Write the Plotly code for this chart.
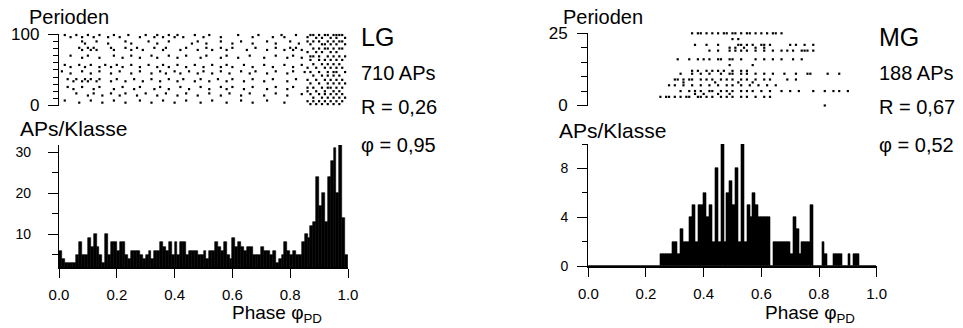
import plotly.graph_objects as go

# ---------------- data ----------------
PHASE_TICKS = [0.0, 0.2, 0.4, 0.6, 0.8, 1.0]
PHASE_LABELS = ["0.0", "0.2", "0.4", "0.6", "0.8", "1.0"]
N_BINS = 100

# APs per class (100 classes over phase 0..1)
LG_COUNTS = [6, 4, 3, 3, 3, 3, 5, 8, 5, 5,
             9, 7, 10, 7, 5, 3, 10, 5, 8, 8,
             6, 8, 8, 5, 4, 6, 6, 6, 5, 4,
             5, 6, 4, 6, 6, 8, 7, 6, 8, 5,
             8, 5, 8, 8, 5, 6, 6, 6, 5, 5,
             6, 4, 6, 6, 8, 7, 6, 8, 5, 4,
             9, 7, 8, 7, 6, 7, 7, 5, 5, 5,
             7, 6, 6, 5, 6, 3, 4, 5, 8, 6,
             5, 6, 5, 5, 8, 10, 9, 12, 13, 24,
             17, 20, 13, 24, 28, 31, 20, 32, 14, 5]

MG_COUNTS = [0] * 25 + [1, 1, 1, 1, 2,
                        2, 1, 3, 2, 2, 4, 5, 2, 5, 5,
                        6, 4, 5, 2, 8, 2, 10, 2, 6, 7,
                        5, 8, 2, 10, 2, 5, 4, 6, 5, 4,
                        4, 4, 4, 0, 2, 2, 2, 2, 2, 2,
                        1, 4, 3, 1, 2, 2, 2, 5, 0, 0,
                        0, 2, 1, 0, 0, 1, 1, 1, 0, 0,
                        1, 0, 1, 1, 0, 0, 0, 0, 0, 0]

# Raster (LG): period of each row and the phases of its APs
LG_ROW_PERIODS = [99, 96, 90, 87, 81, 78, 70, 67, 57, 54, 48, 45, 37, 34, 26, 23, 17, 14, 7, 4]
LG_ROW_PHASES = [
    [0.02, 0.06, 0.10, 0.14, 0.19, 0.24, 0.30, 0.34, 0.38, 0.41, 0.47, 0.52, 0.62, 0.69, 0.77, 0.82, 0.87],
    [0.04, 0.08, 0.12, 0.17, 0.21, 0.28, 0.33, 0.36, 0.40, 0.43, 0.50, 0.56, 0.67, 0.74, 0.78, 0.86],
    [0.08, 0.13, 0.23, 0.31, 0.38, 0.48, 0.56, 0.63, 0.72, 0.80],
    [0.09, 0.17, 0.25, 0.34, 0.46, 0.51, 0.60, 0.67, 0.75, 0.83],
    [0.07, 0.10, 0.12, 0.18, 0.23, 0.27, 0.33, 0.37, 0.44, 0.51, 0.56, 0.60, 0.68, 0.75, 0.80, 0.82],
    [0.08, 0.11, 0.13, 0.19, 0.25, 0.29, 0.36, 0.42, 0.48, 0.53, 0.58, 0.65, 0.72, 0.78, 0.81, 0.84],
    [0.04, 0.10, 0.19, 0.25, 0.32, 0.38, 0.44, 0.51, 0.58, 0.66, 0.75, 0.81],
    [0.08, 0.14, 0.22, 0.28, 0.34, 0.41, 0.49, 0.56, 0.62, 0.71, 0.79, 0.84],
    [0.02, 0.07, 0.11, 0.16, 0.20, 0.25, 0.31, 0.36, 0.41, 0.47, 0.53, 0.58, 0.64, 0.71, 0.78, 0.84],
    [0.04, 0.09, 0.14, 0.18, 0.22, 0.28, 0.34, 0.38, 0.44, 0.50, 0.56, 0.60, 0.67, 0.74, 0.81],
    [0.01, 0.08, 0.14, 0.21, 0.28, 0.35, 0.40, 0.45, 0.50, 0.56, 0.63, 0.68, 0.75, 0.81],
    [0.04, 0.11, 0.18, 0.25, 0.32, 0.37, 0.42, 0.48, 0.53, 0.59, 0.66, 0.72, 0.79],
    [0.03, 0.06, 0.09, 0.11, 0.14, 0.20, 0.26, 0.32, 0.38, 0.43, 0.49, 0.55, 0.60, 0.67, 0.74, 0.82],
    [0.05, 0.08, 0.10, 0.13, 0.18, 0.23, 0.29, 0.35, 0.41, 0.47, 0.52, 0.58, 0.64, 0.71, 0.79],
    [0.03, 0.08, 0.14, 0.22, 0.28, 0.35, 0.42, 0.49, 0.56, 0.60, 0.67, 0.75, 0.81],
    [0.05, 0.12, 0.19, 0.26, 0.33, 0.38, 0.45, 0.52, 0.58, 0.64, 0.72, 0.79],
    [0.06, 0.12, 0.18, 0.23, 0.30, 0.37, 0.44, 0.52, 0.59, 0.66, 0.75],
    [0.10, 0.15, 0.21, 0.27, 0.34, 0.41, 0.48, 0.56, 0.63, 0.71, 0.79],
    [0.02, 0.11, 0.19, 0.28, 0.36, 0.44, 0.53, 0.63, 0.72],
    [0.07, 0.15, 0.23, 0.32, 0.40, 0.49, 0.58, 0.67, 0.78],
]
# Raster (LG): dense cluster near phase 0.85..1.0
LG_DENSE_PERIODS = [99, 95, 90, 86, 80, 75, 69, 64, 58, 53, 47, 42, 36, 31, 25, 20, 16, 11, 6, 2]
LG_DENSE_PHASES = [
    [0.88, 0.90, 0.92, 0.93, 0.95, 0.96, 0.97, 0.98],
    [0.89, 0.91, 0.94, 0.96, 0.99],
    [0.86, 0.88, 0.90, 0.93, 0.95, 0.97, 0.98],
    [0.87, 0.91, 0.92, 0.94, 0.96, 0.99],
    [0.88, 0.90, 0.92, 0.93, 0.95, 0.97, 0.98],
    [0.86, 0.89, 0.91, 0.94, 0.96],
    [0.87, 0.88, 0.90, 0.93, 0.95, 0.97, 0.99],
    [0.87, 0.90, 0.92, 0.94, 0.96, 0.98],
    [0.88, 0.91, 0.93, 0.95, 0.97],
    [0.86, 0.89, 0.92, 0.94, 0.96, 0.98],
    [0.85, 0.87, 0.90, 0.93, 0.95, 0.96, 0.99],
    [0.88, 0.91, 0.93, 0.95, 0.97],
    [0.86, 0.89, 0.92, 0.94, 0.96, 0.98],
    [0.87, 0.90, 0.93, 0.95, 0.97, 0.99],
    [0.86, 0.88, 0.91, 0.93, 0.94, 0.96, 0.98],
    [0.86, 0.89, 0.92, 0.95, 0.97],
    [0.84, 0.87, 0.90, 0.92, 0.94, 0.96, 0.98],
    [0.88, 0.91, 0.93, 0.95, 0.97, 0.99],
    [0.86, 0.88, 0.90, 0.92, 0.94, 0.96, 0.98],
    [0.87, 0.89, 0.91, 0.93, 0.95, 0.97],
]

# Raster (MG)
MG_ROW_PERIODS = [25, 23, 21, 20, 19, 16, 14, 12, 11, 9, 8, 7, 5, 4, 3, 0]
MG_ROW_PHASES = [
    [0.36, 0.38, 0.39, 0.41, 0.43, 0.45, 0.47, 0.48, 0.50, 0.51, 0.53, 0.55, 0.56, 0.58, 0.60, 0.62, 0.64, 0.65, 0.67],
    [0.50, 0.52],
    [0.37, 0.41, 0.45, 0.52, 0.53, 0.55, 0.57, 0.60, 0.61, 0.63, 0.70, 0.72, 0.75, 0.78],
    [0.49, 0.51, 0.54, 0.58, 0.61],
    [0.42, 0.45, 0.49, 0.51, 0.53, 0.55, 0.58, 0.61, 0.64, 0.67, 0.69, 0.71, 0.74, 0.75, 0.76, 0.78],
    [0.31, 0.35, 0.38, 0.40, 0.42, 0.45, 0.46, 0.49, 0.50, 0.53, 0.58, 0.61, 0.64, 0.67, 0.71, 0.74],
    [0.49, 0.57],
    [0.36, 0.38, 0.41, 0.43, 0.45, 0.47, 0.50, 0.53, 0.55],
    [0.32, 0.36, 0.39, 0.42, 0.46, 0.49, 0.50, 0.53, 0.55, 0.58, 0.61, 0.64, 0.68, 0.72, 0.76, 0.77, 0.83, 0.87],
    [0.30, 0.31, 0.33, 0.35, 0.36, 0.39, 0.41, 0.43, 0.46, 0.48, 0.50, 0.53, 0.55, 0.58, 0.61, 0.63, 0.69, 0.72],
    [0.33, 0.44, 0.52, 0.57],
    [0.28, 0.30, 0.33, 0.36, 0.39, 0.42, 0.45, 0.48, 0.50, 0.53, 0.56, 0.59, 0.62, 0.65],
    [0.32, 0.35, 0.37, 0.39, 0.42, 0.43, 0.46, 0.48, 0.50, 0.53, 0.55, 0.57, 0.60, 0.63, 0.67, 0.70, 0.73,
     0.78, 0.82, 0.85, 0.87, 0.90],
    [0.37, 0.40, 0.45, 0.49],
    [0.25, 0.27, 0.28, 0.30, 0.32, 0.34, 0.35, 0.38, 0.39, 0.41, 0.43, 0.46, 0.48, 0.50, 0.53, 0.55, 0.58,
     0.61, 0.63],
    [0.82],
]

LG_STATS = ["LG", "710 APs", "R = 0,26", "φ = 0,95"]
MG_STATS = ["MG", "188 APs", "R = 0,67", "φ = 0,52"]

# ---------------- figure ----------------
W, H = 963, 328
FONT = "Liberation Sans, Arial, sans-serif"


def px(x):
    return x / W


def py(y):
    return 1 - y / H


def flatten(periods, phases):
    xs, ys = [], []
    for p, row in zip(periods, phases):
        for ph in row:
            xs.append(ph)
            ys.append(p)
    return xs, ys


centers = [(i + 0.5) / N_BINS for i in range(N_BINS)]

fig = go.Figure()

lx1, ly1 = flatten(LG_ROW_PERIODS, LG_ROW_PHASES)
lx2, ly2 = flatten(LG_DENSE_PERIODS, LG_DENSE_PHASES)
mx, my = flatten(MG_ROW_PERIODS, MG_ROW_PHASES)

dot = dict(color="black", size=2.2, symbol="square", line=dict(width=0))
barstyle = dict(color="black", line=dict(width=0.6, color="black"))
fig.add_trace(go.Scatter(x=lx1 + lx2, y=ly1 + ly2, mode="markers", marker=dot,
                         xaxis="x", yaxis="y", cliponaxis=False, showlegend=False))
fig.add_trace(go.Bar(x=centers, y=LG_COUNTS, width=1 / N_BINS, marker=barstyle,
                     xaxis="x2", yaxis="y2", showlegend=False))
fig.add_trace(go.Scatter(x=mx, y=my, mode="markers", marker=dot,
                         xaxis="x3", yaxis="y3", cliponaxis=False, showlegend=False))
fig.add_trace(go.Bar(x=centers, y=MG_COUNTS, width=1 / N_BINS, marker=barstyle,
                     xaxis="x4", yaxis="y4", showlegend=False))

LDOM = [px(59), px(348)]
RDOM = [px(588.3), px(876.7)]

tickfont_raster = dict(family=FONT, size=17, color="black")
tickfont_hist = dict(family=FONT, size=14, color="black")
tickfont_x = dict(family=FONT, size=15, color="black")

common_y = dict(showline=True, linecolor="black", linewidth=1.3, ticks="outside", tickcolor="black",
                tickwidth=1.3, ticklen=10, showgrid=False, zeroline=False, fixedrange=True,
                automargin=False)
common_xh = dict(showline=True, linecolor="black", linewidth=1.5, ticks="outside", tickcolor="black",
                 tickwidth=1.3, ticklen=9, showgrid=False, zeroline=False, range=[0, 1],
                 tickvals=PHASE_TICKS, ticktext=PHASE_LABELS, tickfont=tickfont_x, ticklabelstandoff=4,
                 automargin=False)

fig.update_layout(
    width=W, height=H, margin=dict(l=0, r=0, t=0, b=0), autosize=False,
    paper_bgcolor="white", plot_bgcolor="white", bargap=0,
    font=dict(family=FONT, color="black"),
    xaxis=dict(domain=LDOM, range=[0, 1], visible=False, anchor="y", automargin=False),
    yaxis=dict(domain=[py(105.5), py(34.3)], range=[0, 100], dtick=100, anchor="x",
               tickfont=tickfont_raster, ticklabelstandoff=5,
               minor=dict(dtick=10, ticks="outside", ticklen=5, tickcolor="black", tickwidth=1.2),
               **common_y),
    xaxis2=dict(domain=LDOM, anchor="y2", **common_xh),
    yaxis2=dict(domain=[py(267), py(145)], range=[2, 31.8], tickvals=[10, 20, 30], anchor="x2",
                tickfont=tickfont_hist, ticklabelstandoff=14,
                minor=dict(tickvals=[5, 15, 25], ticks="outside", ticklen=6, tickcolor="black", tickwidth=1.2),
                **common_y),
    xaxis3=dict(domain=RDOM, range=[0, 1], visible=False, anchor="y3", automargin=False),
    yaxis3=dict(domain=[py(105.5), py(33.3)], range=[0, 25], dtick=25, anchor="x3",
                tickfont=tickfont_raster, ticklabelstandoff=6,
                minor=dict(dtick=5, ticks="outside", ticklen=6, tickcolor="black", tickwidth=1.2),
                **common_y),
    xaxis4=dict(domain=RDOM, anchor="y4", **common_xh),
    yaxis4=dict(domain=[py(266), py(144)], range=[0, 10], tickvals=[0, 4, 8], anchor="x4",
                tickfont=tickfont_hist, ticklabelstandoff=6,
                minor=dict(tickvals=[2, 6, 10], ticks="outside", ticklen=5, tickcolor="black", tickwidth=1.2),
                **common_y),
)


def label(text, x, y, size, anchor="left"):
    fig.add_annotation(text=text, x=px(x), y=py(y), xref="paper", yref="paper", showarrow=False,
                       xanchor=anchor, yanchor="middle", font=dict(family=FONT, size=size, color="black"))


# axis titles
label("Perioden", 27, 17, 20)
label("APs/Klasse", 18, 128, 21)
label("Perioden", 561, 17, 20)
label("APs/Klasse", 557, 130, 21)
label("Phase φ<sub>PD</sub>", 230, 314, 19)
label("Phase φ<sub>PD</sub>", 763, 314, 19)

# statistics
stat_y = [37, 73, 107, 145]
stat_size = [25, 20, 20, 20]
for txt, yy, sz in zip(LG_STATS, stat_y, stat_size):
    label(txt, 359, yy, sz)
for txt, yy, sz in zip(MG_STATS, stat_y, stat_size):
    label(txt, 877, yy, sz)

fig.write_html("out.html")
